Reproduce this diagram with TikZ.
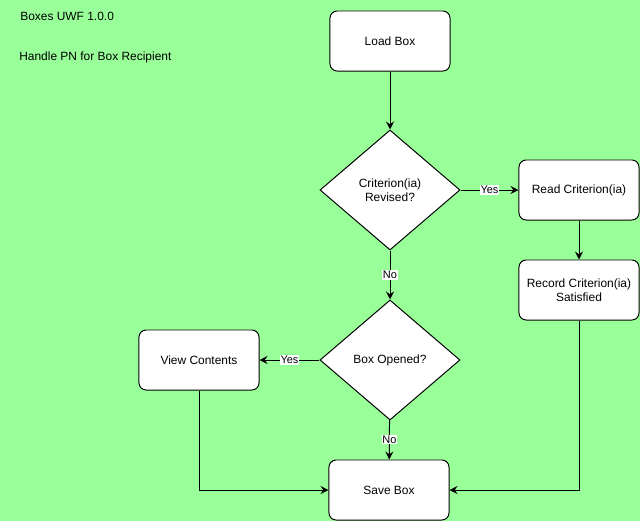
\documentclass[tikz,border=0pt]{standalone}
\usepackage{fontspec}
\setmainfont{Liberation Sans}
\usetikzlibrary{arrows.meta,shapes.geometric}
\definecolor{bggreen}{HTML}{99FF99}
\tikzset{
	stepbox/.style={draw, fill=white, line width=0.7pt, rounded corners=0.18cm, minimum width=3cm, minimum height=1.5cm, align=center, font=\fontsize{8.5}{10}\selectfont},
	askbox/.style={draw, fill=white, line width=0.7pt, diamond, minimum width=3.5cm, minimum height=3cm, inner sep=0pt, align=center, font=\fontsize{8.5}{10}\selectfont},
	flow/.style={line width=0.7pt, -{Stealth[length=0.2cm, width=0.2cm, inset=0.07cm]}},
	lbl/.style={fill=white, inner sep=0.5pt, font=\fontsize{7.8}{9}\selectfont},
	note/.style={anchor=west, inner sep=0pt, font=\fontsize{8.5}{10}\selectfont}
}

\begin{document}
\begin{tikzpicture}[x=0.025cm, y=-0.025cm]
		%%%%% START %%%%%
		
		\fill[bggreen] (0, 0) rectangle (640, 521);
		\useasboundingbox (0, 0) rectangle (640, 521);
		
		\node[note] (title) at (20, 16) {Boxes UWF 1.0.0};
		\node[note] (subtitle) at (19, 57) {Handle PN for Box Recipient};
		
		\node[stepbox] (load) at (390, 41) {Load Box};
		\node[askbox] (revised) at (390, 190) {Criterion(ia)\\Revised?};
		\node[stepbox] (read) at (579, 190) {Read Criterion(ia)};
		\node[stepbox] (record) at (579, 290) {Record Criterion(ia)\\Satisfied};
		\node[askbox] (opened) at (390, 360) {Box Opened?};
		\node[stepbox] (view) at (199, 360) {View Contents};
		\node[stepbox] (save) at (389, 490) {Save Box};
		
		\draw[flow] (load) -- (revised);
		\draw[flow] (revised) -- node[lbl] {Yes} (read);
		\draw[flow] (revised) -- node[lbl] {No} (opened);
		\draw[flow] (read) -- (record);
		\draw[flow] (record.south) |- (save.east);
		\draw[flow] (opened) -- node[lbl] {Yes} (view);
		\draw[flow] (opened) -- node[lbl] {No} (save);
		\draw[flow] (view.south) |- (save.west);
		
		%%%%% END %%%%%
	\end{tikzpicture}
\end{document}
